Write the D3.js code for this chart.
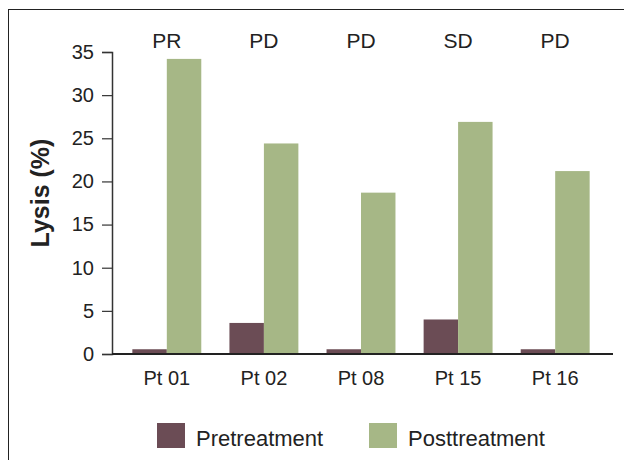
<!DOCTYPE html>
<html lang="en">
<head>
  <meta charset="UTF-8" />
  <title>Lysis by patient</title>
  <script src="https://d3js.org/d3.v7.min.js"></script>
  <style>
    body { margin: 0; background: #fff; font-family: "Liberation Sans", Arial, sans-serif; }
    svg { display: block; }
  </style>
</head>
<body>
<svg width="624" height="460"></svg>
<script>
const patients = ["Pt 01", "Pt 02", "Pt 08", "Pt 15", "Pt 16"];
const responses = ["PR", "PD", "PD", "SD", "PD"];
const pretreatment = [0.55, 3.6, 0.55, 4.0, 0.55];
const posttreatment = [34.2, 24.4, 18.7, 26.9, 21.2];
const series = ["Pretreatment", "Posttreatment"];
const yTicks = [0, 5, 10, 15, 20, 25, 30, 35];

const svg = d3.select("svg");
const color = d3.scaleOrdinal().domain(series).range(["#6b4c55", "#a6b786"]);

// frame lines (top and left only)
svg.append("line").attr("x1", 8).attr("x2", 624).attr("y1", 9.5).attr("y2", 9.5)
  .attr("stroke", "#222").attr("stroke-width", 1);
svg.append("line").attr("x1", 8.5).attr("x2", 8.5).attr("y1", 9).attr("y2", 460)
  .attr("stroke", "#222").attr("stroke-width", 1);

const y = d3.scaleLinear().domain([0, 35]).range([354, 52]);
const x = d3.scaleBand().domain(patients).range([110.5, 611.5])
  .paddingInner(0.29).paddingOuter(0.225);
const xs = d3.scaleBand().domain(series).range([0, x.bandwidth()]);

const rows = patients.map((p, i) => ({
  patient: p, response: responses[i],
  values: [{ key: "Pretreatment", v: pretreatment[i] }, { key: "Posttreatment", v: posttreatment[i] }]
}));

// bars
const groups = svg.selectAll("g.grp").data(rows).enter().append("g")
  .attr("class", "grp")
  .attr("transform", d => `translate(${x(d.patient)},0)`);
groups.selectAll("rect").data(d => d.values).enter().append("rect")
  .attr("x", d => xs(d.key))
  .attr("width", xs.bandwidth())
  .attr("y", d => y(d.v))
  .attr("height", d => y(0) - y(d.v))
  .attr("fill", d => color(d.key));

// response labels
groups.append("text")
  .attr("x", x.bandwidth() / 2)
  .attr("y", 48)
  .attr("text-anchor", "middle")
  .style("font-size", "21px")
  .attr("fill", "#222")
  .text(d => d.response);

// y axis
const yAxis = svg.append("g").attr("transform", "translate(112,0)")
  .call(d3.axisLeft(y).tickValues(yTicks).tickSize(10).tickPadding(8));
yAxis.select(".domain").attr("stroke", "#333").attr("stroke-width", 1.5);
yAxis.selectAll(".tick line").attr("stroke", "#333").attr("stroke-width", 1.2);
yAxis.selectAll("text").style("font-size", "20px").attr("fill", "#222");

// x axis
svg.append("line").attr("x1", 112).attr("x2", 613).attr("y1", 354).attr("y2", 354)
  .attr("stroke", "#222").attr("stroke-width", 2);
const xAxis = svg.append("g").attr("transform", "translate(0,354)")
  .call(d3.axisBottom(x).tickSize(0).tickPadding(17));
xAxis.select(".domain").remove();
xAxis.selectAll("text").style("font-size", "20px").attr("fill", "#222");

// y label
svg.append("text")
  .attr("transform", "translate(49,193) rotate(-90)")
  .attr("text-anchor", "middle")
  .style("font-size", "25px")
  .style("font-weight", "bold")
  .attr("fill", "#222")
  .text("Lysis (%)");

// legend
const legendX = [157, 369];
const leg = svg.selectAll("g.leg").data(series).enter().append("g")
  .attr("class", "leg")
  .attr("transform", (d, i) => `translate(${legendX[i]},423)`);
leg.append("rect").attr("width", 28).attr("height", 25).attr("fill", d => color(d));
leg.append("text").attr("x", 39).attr("y", 23)
  .style("font-size", "22px").attr("fill", "#222").text(d => d);
</script>
</body>
</html>
